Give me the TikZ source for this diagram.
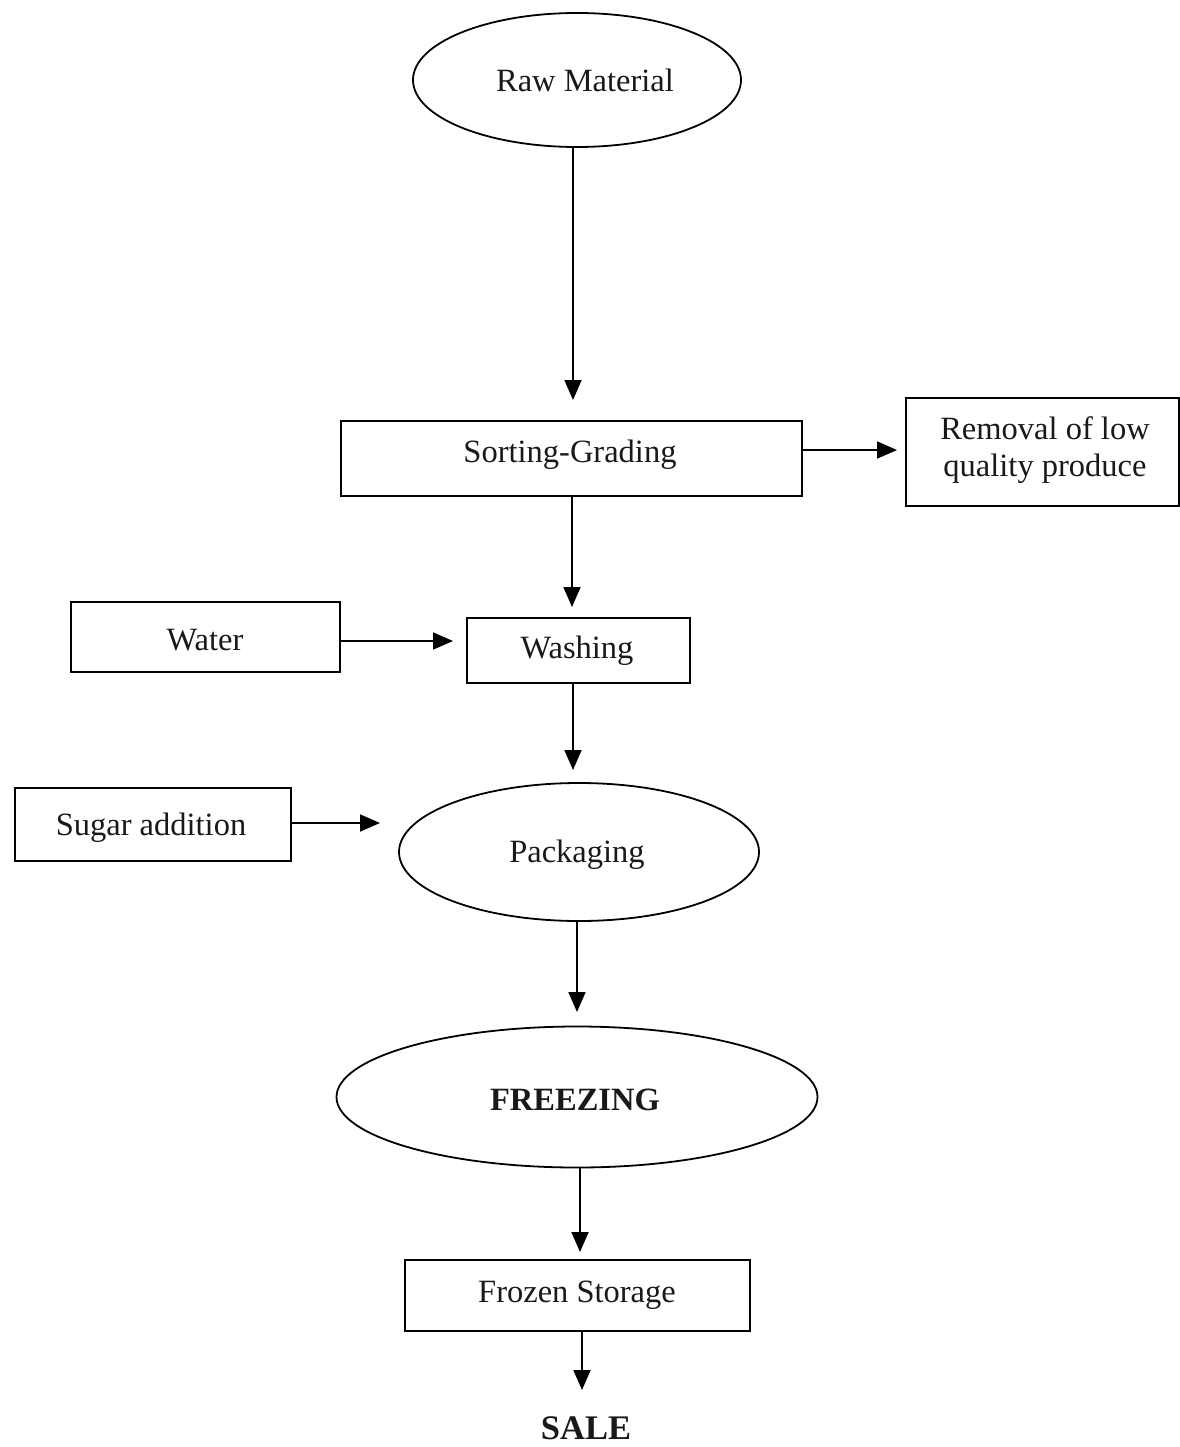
\documentclass[tikz,border=0pt]{standalone}
\usepackage{fontspec}
\setmainfont{Liberation Serif}
\usetikzlibrary{arrows.meta,shapes.geometric}
\begin{document}
\begin{tikzpicture}[x=1pt,y=-1pt,
  every node/.style={font=\fontsize{32.5}{37}\selectfont, text=black!90},
  boxstep/.style={draw, line width=2pt, inner sep=0pt, anchor=north west},
  ovalstep/.style={draw, ellipse, line width=1.8pt, inner sep=0pt},
  flow/.style={line width=1.8pt, -{Triangle[length=20pt,width=17pt]}}
]
\useasboundingbox (0,0) rectangle (1179,1447);
% nodes
\node[ovalstep, minimum width=328pt, minimum height=134pt] (raw) at (577,80) {};
\node at (585,80) {Raw Material};
\node[boxstep, minimum width=461pt, minimum height=75pt] (sort) at (340,420) {};
\node at (570,455) {Sorting-Grading};
\node[boxstep, minimum width=273pt, minimum height=108pt] (rem) at (905,397) {};
\node[align=center, font=\fontsize{32.5}{37}\selectfont] at (1045,450) {Removal of low\\quality produce};
\node[boxstep, minimum width=269pt, minimum height=70pt] (water) at (70,601) {};
\node at (205,640) {Water};
\node[boxstep, minimum width=223pt, minimum height=65pt] (wash) at (466,617) {};
\node at (577,651) {Washing};
\node[boxstep, minimum width=276pt, minimum height=73pt] (sugar) at (14,787) {};
\node at (151,828) {Sugar addition};
\node[ovalstep, minimum width=360pt, minimum height=138pt] (pack) at (579,852) {};
\node at (577,855) {Packaging};
\node[ovalstep, minimum width=481pt, minimum height=141pt] (freeze) at (577,1097) {};
\node at (575,1100) {\bfseries FREEZING};
\node[boxstep, minimum width=345pt, minimum height=71pt] (frozen) at (404,1259) {};
\node at (577,1295) {Frozen Storage};
\node[font=\fontsize{34.5}{38}\selectfont\bfseries, inner sep=0pt] (sale) at (586,1428) {SALE};
% tips
\coordinate (t1) at (573,400);
\coordinate (t2) at (897,450);
\coordinate (t3) at (572,607);
\coordinate (t4) at (453,641);
\coordinate (t5) at (573,770);
\coordinate (t6) at (380,823);
\coordinate (t7) at (577,1012);
\coordinate (t8) at (580,1252);
\coordinate (t9) at (582,1390);
% connectors
\draw[flow] (raw.south -| t1) -- (t1);
\draw[flow] (sort.east |- t2) -- (t2);
\draw[flow] (sort.south -| t3) -- (t3);
\draw[flow] (water.east |- t4) -- (t4);
\draw[flow] (wash.south -| t5) -- (t5);
\draw[flow] (sugar.east |- t6) -- (t6);
\draw[flow] (pack.south -| t7) -- (t7);
\draw[flow] (freeze.south -| t8) -- (t8);
\draw[flow] (frozen.south -| t9) -- (t9);
\end{tikzpicture}
\end{document}
